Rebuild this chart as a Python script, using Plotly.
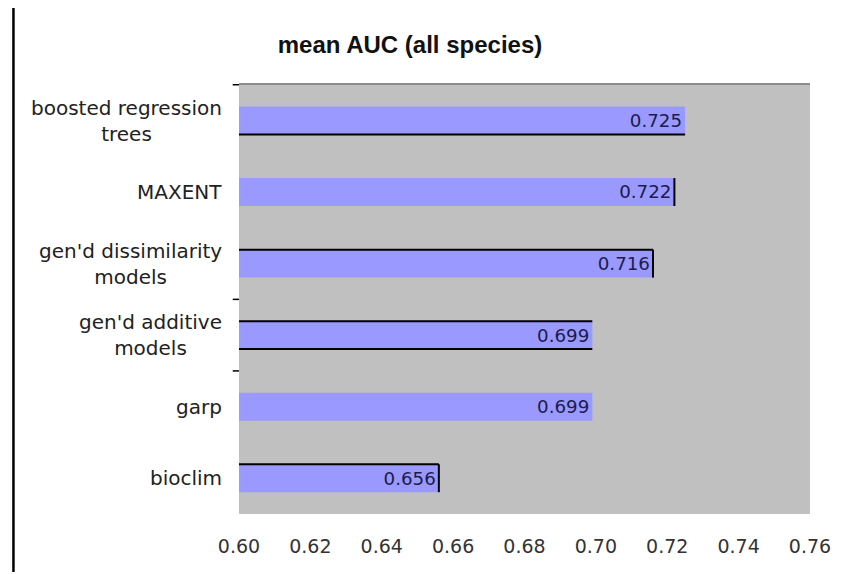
import plotly.graph_objects as go

# ---- data ----
categories = ["boosted regression<br>trees", "MAXENT", "gen'd dissimilarity<br>models",
              "gen'd additive<br>models", "garp", "bioclim"]
auc_values = [0.725, 0.722, 0.716, 0.699, 0.699, 0.656]
x_ticks = [0.60, 0.62, 0.64, 0.66, 0.68, 0.70, 0.72, 0.74, 0.76]
title_text = "mean AUC (all species)"

# which outline edges are visible on each bar (as in the reference)
edge_marks = [["bottom"], ["right"], ["top", "right"], ["top", "bottom"], [], ["top", "right"]]
boundary_ticks = [-0.5, 2.5, 3.5]

BAR_W = 0.39
FONT = "DejaVu Sans"
TFONT = "Liberation Sans"

# page body has an 8px margin, so the figure is 8px smaller and offset
W, H = 835, 566
ML, MT = 231, 76
PW, PH = 578, 430

fig = go.Figure()
fig.add_trace(go.Bar(
    x=auc_values, y=categories, orientation="h", base=0,
    width=BAR_W,
    marker=dict(color="#9999ff", line=dict(width=0)),
    text=[f"{v:.3f}" for v in auc_values],
    textposition="inside", insidetextanchor="end",
    textfont=dict(family=FONT, size=20, color="#1c1c4a"),
    cliponaxis=True,
    hoverinfo="x+y",
))

shapes = []
x0 = x_ticks[0]
for i, (v, marks) in enumerate(zip(auc_values, edge_marks)):
    top = i - BAR_W / 2
    bot = i + BAR_W / 2
    for m in marks:
        if m == "top":
            shapes.append(dict(type="line", xref="x", yref="y", x0=x0, x1=v, y0=top, y1=top,
                               line=dict(color="black", width=2)))
        elif m == "bottom":
            shapes.append(dict(type="line", xref="x", yref="y", x0=x0, x1=v, y0=bot, y1=bot,
                               line=dict(color="black", width=2)))
        elif m == "right":
            shapes.append(dict(type="line", xref="x", yref="y", x0=v, x1=v, y0=top, y1=bot,
                               line=dict(color="black", width=2)))
for b in boundary_ticks:
    shapes.append(dict(type="line", xref="paper", yref="y", x0=-0.011, x1=0, y0=b, y1=b,
                       line=dict(color="black", width=1.5)))
# top border of plot area
shapes.append(dict(type="line", xref="paper", yref="paper", x0=0, x1=1, y0=1, y1=1,
                   line=dict(color="#8a8a8a", width=2)))
# left frame line of the picture
shapes.append(dict(type="line", xref="paper", yref="paper", x0=-0.395, x1=-0.395, y0=1.3, y1=-0.135,
                   line=dict(color="black", width=2.5)))

annotations = []
for i, c in enumerate(categories):
    annotations.append(dict(text=c, xref="paper", yref="y", x=-0.026, y=i,
                            xanchor="right", yanchor="middle", align="center", showarrow=False,
                            font=dict(family=FONT, size=20, color="#222222")))

fig.update_layout(
    width=W, height=H,
    margin=dict(l=ML, r=W - ML - PW, t=MT, b=H - MT - PH, pad=0),
    paper_bgcolor="white", plot_bgcolor="#c0c0c0",
    showlegend=False,
    title=dict(text=f"<b>{title_text}</b>", xref="container", yref="container",
               x=(410 - 8) / W, y=1 - (45 - 8) / H, xanchor="center", yanchor="middle",
               font=dict(family=TFONT, size=24, color="#111111")),
    xaxis=dict(range=[x_ticks[0], x_ticks[-1]], tickvals=x_ticks,
               ticktext=[f"{t:.2f}" for t in x_ticks],
               showgrid=False, zeroline=False, showline=False, ticks="",
               ticklabelstandoff=19,
               tickfont=dict(family=FONT, size=19, color="#333333")),
    yaxis=dict(type="category", categoryorder="array", categoryarray=categories,
               autorange="reversed", showticklabels=False, showgrid=False,
               zeroline=False, showline=False, ticks=""),
    shapes=shapes, annotations=annotations,
)

fig.write_html("out.html")
